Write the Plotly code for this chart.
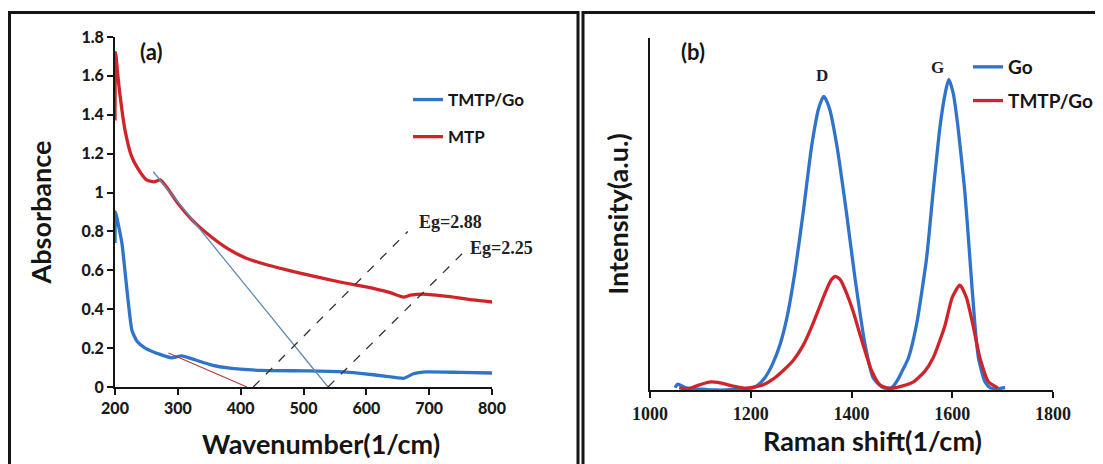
import plotly.graph_objects as go

# ---------------- Panel (a) data: UV-Vis absorbance ----------------
mtp_x = [200, 201, 204, 208, 216, 226, 237, 250, 262, 272, 284, 300, 327, 354, 380, 407,
         440, 470, 505, 558, 611, 638, 659, 670, 690, 733, 770, 800]
mtp_y = [1.37, 1.72, 1.62, 1.50, 1.32, 1.19, 1.12, 1.065, 1.055, 1.065, 1.02, 0.945, 0.845,
         0.77, 0.71, 0.665, 0.63, 0.605, 0.578, 0.54, 0.507, 0.485, 0.462, 0.472, 0.478,
         0.465, 0.448, 0.437]

tmtp_x = [200, 201, 205, 211, 219, 227, 235, 248, 274, 290, 306, 327, 354, 380, 433, 505,
          558, 611, 648, 660, 675, 696, 750, 800]
tmtp_y = [0.74, 0.90, 0.84, 0.74, 0.50, 0.29, 0.235, 0.20, 0.165, 0.15, 0.16, 0.14, 0.113,
          0.098, 0.085, 0.083, 0.079, 0.063, 0.048, 0.045, 0.068, 0.078, 0.075, 0.072]

# tangent / band-gap construction lines
tan_mtp_x = [261, 539]
tan_mtp_y = [1.107, 0.0]
tan_tmtp_x = [285, 410]
tan_tmtp_y = [0.175, 0.0]
eg1_x = [420, 666]
eg1_y = [0.0, 0.80]
eg2_x = [539, 754]
eg2_y = [0.0, 0.69]

a_xticks = [200, 300, 400, 500, 600, 700, 800]
a_xticktext = ["200", "300", "400", "500", "600", "700", "800"]
a_yticks = [0, 0.2, 0.4, 0.6, 0.8, 1.0, 1.2, 1.4, 1.6, 1.8]
a_yticktext = ["0", "0.2", "0.4", "0.6", "0.8", "1", "1.2", "1.4", "1.6", "1.8"]

# ---------------- Panel (b) data: Raman spectra ----------------
go_x = [1050, 1055, 1070, 1090, 1110, 1130, 1150, 1170, 1190, 1205, 1215, 1228, 1243, 1258,
        1273, 1288, 1304, 1321, 1335, 1345, 1356, 1371, 1390, 1407, 1427, 1443, 1455, 1463,
        1472, 1480, 1492, 1500, 1513, 1529, 1549, 1562, 1576, 1586, 1593, 1602, 1611, 1625,
        1635, 1645, 1652, 1665, 1675, 1690, 1705]
go_y = [0.0, 0.012, 0.0, -0.004, -0.006, -0.008, -0.008, -0.006, -0.003, 0.0, 0.01, 0.034,
        0.08, 0.147, 0.25, 0.40, 0.60, 0.83, 0.96, 1.0, 0.96, 0.83, 0.60, 0.375, 0.147,
        0.034, 0.01, 0.0, -0.002, 0.0, 0.028, 0.055, 0.102, 0.216, 0.444, 0.672, 0.90,
        1.01, 1.058, 1.01, 0.90, 0.672, 0.444, 0.216, 0.102, 0.02, 0.0, -0.003, 0.0]

tgo_x = [1058, 1075, 1095, 1110, 1122, 1135, 1150, 1170, 1190, 1200, 1225, 1245, 1264, 1285,
         1304, 1320, 1335, 1350, 1360, 1368, 1378, 1390, 1403, 1423, 1440, 1456, 1468, 1480,
         1500, 1523, 1545, 1562, 1575, 1586, 1600, 1615, 1628, 1641, 1655, 1672, 1690]
tgo_y = [0.0, -0.005, 0.008, 0.016, 0.02, 0.018, 0.012, 0.004, -0.002, 0.0, 0.01, 0.03,
         0.058, 0.095, 0.145, 0.205, 0.27, 0.335, 0.37, 0.382, 0.37, 0.325, 0.263, 0.147,
         0.058, 0.01, 0.0, -0.002, 0.005, 0.02, 0.055, 0.102, 0.16, 0.216, 0.31, 0.352,
         0.31, 0.216, 0.102, 0.02, 0.0]

b_xticks = [1000, 1200, 1400, 1600, 1800]
b_xticktext = ["1000", "1200", "1400", "1600", "1800"]

BLUE = "#2F74C8"
RED = "#D0242B"
INK = "#151515"
SANS = "Lato"
SERIF = "Liberation Serif"

# page body has an 8px margin: figure placed at (8, 8) in the window
OFF = 8
FW, FH = 1103 - OFF, 464 - OFF


def px(x):
    return (x - OFF) / FW


def py(y):
    return 1 - (y - OFF) / FH


fig = go.Figure()

# panel (a)
fig.add_trace(go.Scatter(x=tmtp_x, y=tmtp_y, mode="lines", name="TMTP/Go",
                         line=dict(color=BLUE, width=3.3, shape="spline", smoothing=0.5),
                         xaxis="x", yaxis="y", legend="legend", legendgroup="a1"))
fig.add_trace(go.Scatter(x=mtp_x, y=mtp_y, mode="lines", name="MTP",
                         line=dict(color=RED, width=3.3, shape="spline", smoothing=0.5),
                         xaxis="x", yaxis="y", legend="legend", legendgroup="a2"))
fig.add_trace(go.Scatter(x=tan_mtp_x, y=tan_mtp_y, mode="lines", showlegend=False,
                         line=dict(color="#5C88B4", width=1.3), xaxis="x", yaxis="y"))
fig.add_trace(go.Scatter(x=tan_tmtp_x, y=tan_tmtp_y, mode="lines", showlegend=False,
                         line=dict(color="#B03A3A", width=1.1), xaxis="x", yaxis="y"))
fig.add_trace(go.Scatter(x=eg1_x, y=eg1_y, mode="lines", showlegend=False,
                         line=dict(color="#333333", width=1.3, dash="dash"), xaxis="x", yaxis="y"))
fig.add_trace(go.Scatter(x=eg2_x, y=eg2_y, mode="lines", showlegend=False,
                         line=dict(color="#333333", width=1.3, dash="dash"), xaxis="x", yaxis="y"))

# panel (b)
fig.add_trace(go.Scatter(x=go_x, y=go_y, mode="lines", name="Go",
                         line=dict(color=BLUE, width=3.3, shape="spline", smoothing=0.6),
                         xaxis="x2", yaxis="y2", legend="legend2", legendgroup="b1"))
fig.add_trace(go.Scatter(x=tgo_x, y=tgo_y, mode="lines", name="TMTP/Go",
                         line=dict(color=RED, width=3.3, shape="spline", smoothing=0.6),
                         xaxis="x2", yaxis="y2", legend="legend2", legendgroup="b2"))

axis_common = dict(showgrid=False, zeroline=False, showline=True, linecolor=INK,
                   linewidth=2, ticks="outside", tickcolor=INK, tickwidth=2, ticklen=6,
                   automargin=False)
title_font = dict(family=SANS, size=27, weight="bold", color=INK)
tick_sans = dict(family=SANS, size=16, weight=900, color="#1a1a1a")
tick_serif = dict(family=SERIF, size=18, weight="bold", color="#1a1a1a")

fig.update_layout(
    width=FW, height=FH, template="none",
    paper_bgcolor="white", plot_bgcolor="rgba(0,0,0,0)",
    margin=dict(l=0, r=0, t=0, b=0),
    font=dict(family=SANS, color=INK),
    xaxis=dict(domain=[px(115), px(492)], range=[200, 800], tickvals=a_xticks,
               ticktext=a_xticktext, tickfont=tick_sans,
               anchor="y", **axis_common),
    yaxis=dict(domain=[py(387), py(37)], range=[0, 1.8], tickvals=a_yticks,
               ticktext=a_yticktext, tickfont=tick_sans,
               title=dict(text="Absorbance", standoff=22, font=title_font),
               anchor="x", **axis_common),
    xaxis2=dict(domain=[px(650), px(1053)], range=[1000, 1800], tickvals=b_xticks,
                ticktext=b_xticktext, tickfont=tick_serif,
                anchor="y2", **axis_common),
    yaxis2=dict(domain=[py(390), py(38)], range=[-0.008, 1.2], showticklabels=False,
                title=dict(text="Intensity(a.u.)", standoff=12, font=title_font),
                anchor="x2", **{**axis_common, "ticks": ""}),
    legend=dict(x=px(408), y=py(82), xanchor="left", yanchor="top",
                bgcolor="rgba(0,0,0,0)", traceorder="grouped", tracegroupgap=12,
                font=dict(family=SANS, size=17, weight="bold", color=INK),
                itemwidth=30),
    legend2=dict(x=px(968), y=py(48), xanchor="left", yanchor="top",
                 bgcolor="rgba(0,0,0,0)", traceorder="grouped", tracegroupgap=6,
                 font=dict(family=SANS, size=19, weight="bold", color=INK),
                 itemwidth=30),
    shapes=[
        dict(type="rect", xref="paper", yref="paper", x0=px(9.5), x1=px(578),
             y0=-0.05, y1=py(12.5), line=dict(color=INK, width=3)),
        dict(type="rect", xref="paper", yref="paper", x0=px(583), x1=1.05,
             y0=-0.05, y1=py(12.5), line=dict(color=INK, width=3)),
    ],
    annotations=[
        dict(text="Wavenumber(1/cm)", xref="paper", yref="paper", x=px(321), y=py(443),
             xanchor="center", yanchor="middle", showarrow=False, font=title_font),
        dict(text="Raman shift(1/cm)", xref="paper", yref="paper", x=px(872), y=py(440),
             xanchor="center", yanchor="middle", showarrow=False, font=title_font),
        dict(text="(a)", xref="paper", yref="paper", x=px(151), y=py(52),
             xanchor="center", yanchor="middle", showarrow=False,
             font=dict(family=SANS, size=22, weight="bold", color=INK)),
        dict(text="(b)", xref="paper", yref="paper", x=px(693), y=py(52),
             xanchor="center", yanchor="middle", showarrow=False,
             font=dict(family=SANS, size=22, weight="bold", color=INK)),
        dict(text="Eg=2.88", xref="x", yref="y", x=681, y=0.85, xanchor="left",
             yanchor="middle", showarrow=False,
             font=dict(family=SERIF, size=18, weight="bold", color="#222222")),
        dict(text="Eg=2.25", xref="x", yref="y", x=762, y=0.715, xanchor="left",
             yanchor="middle", showarrow=False,
             font=dict(family=SERIF, size=18, weight="bold", color="#222222")),
        dict(text="D", xref="x2", yref="y2", x=1341, y=1.07, xanchor="center",
             yanchor="middle", showarrow=False,
             font=dict(family=SERIF, size=17, weight="bold", color="#222222")),
        dict(text="G", xref="x2", yref="y2", x=1570, y=1.10, xanchor="center",
             yanchor="middle", showarrow=False,
             font=dict(family=SERIF, size=17, weight="bold", color="#222222")),
    ],
)

fig.write_html("out.html")
